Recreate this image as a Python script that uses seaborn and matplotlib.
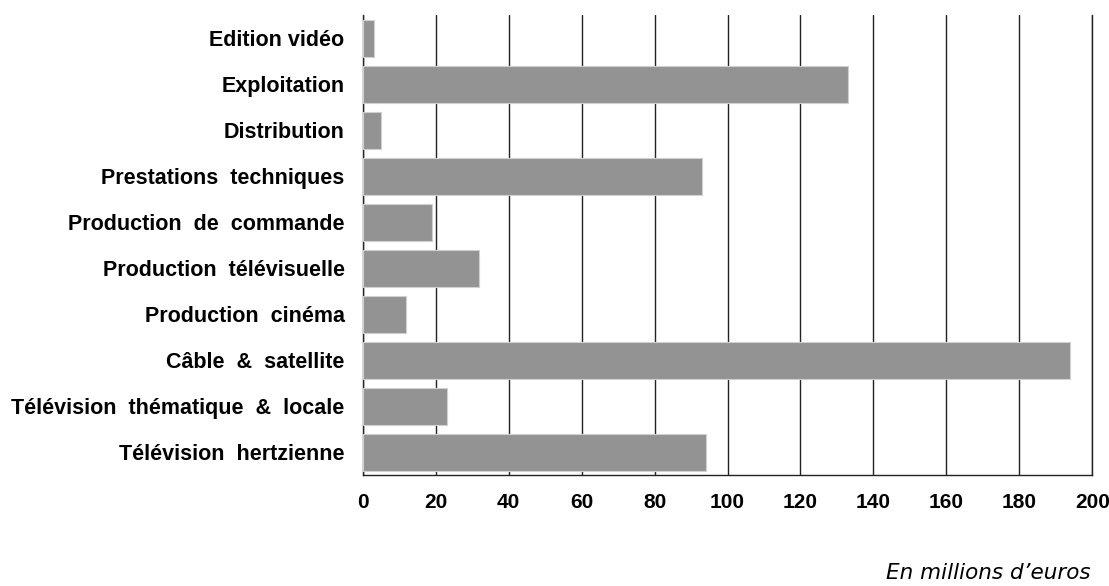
import numpy as np
import pandas as pd
import matplotlib
matplotlib.use("Agg")
import matplotlib.pyplot as plt
import seaborn as sns

# --- data ---
categories = [
    "Edition vidéo",
    "Exploitation",
    "Distribution",
    "Prestations  techniques",
    "Production  de  commande",
    "Production  télévisuelle",
    "Production  cinéma",
    "Câble  &  satellite",
    "Télévision  thématique  &  locale",
    "Télévision  hertzienne",
]
values = [3, 133, 5, 93, 19, 32, 12, 194, 23, 94]
x_ticks = [0, 20, 40, 60, 80, 100, 120, 140, 160, 180, 200]
unit_note = "En millions d\u2019euros"

df = pd.DataFrame({"secteur": categories, "montant": values})

sns.set_style("white")
plt.rcParams["font.family"] = ["Liberation Sans", "DejaVu Sans"]
plt.rcParams["text.color"] = "black"
plt.rcParams["xtick.color"] = "black"
plt.rcParams["ytick.color"] = "black"

fig = plt.figure(figsize=(11.09, 5.86), dpi=100)
ax = fig.add_axes([0.327, 0.189, 0.658, 0.785])

sns.barplot(data=df, x="montant", y="secteur", orient="h", color="#939393",
            saturation=1, width=0.8, edgecolor="#d0d0d0", linewidth=0.8,
            ax=ax, zorder=3)

ax.set_xlim(0, 200)
ax.set_ylim(len(categories) - 0.5, -0.5)
ax.set_xticks(x_ticks)
ax.set_xticklabels([str(t) for t in x_ticks], fontsize=15, fontweight="bold")
ax.set_yticklabels(categories, fontsize=15.5, fontweight="bold")
ax.set_xlabel("")
ax.set_ylabel("")

# vertical grid lines
ax.xaxis.grid(True, color="#222222", linewidth=1.0, zorder=1)
ax.yaxis.grid(False)
ax.set_axisbelow(True)

ax.spines["top"].set_visible(False)
for side in ["left", "bottom", "right"]:
    ax.spines[side].set_color("#222222")
    ax.spines[side].set_linewidth(1.0)

# tick marks between categories on the left axis
ax.set_yticks(np.arange(-0.5, len(categories), 1.0), minor=True)
ax.tick_params(axis="y", which="major", length=0, pad=13)
ax.tick_params(axis="y", which="minor", length=5, direction="in", color="black")
ax.tick_params(axis="x", which="major", length=4, direction="in", pad=13, color="black")

fig.text(0.983, 0.022, unit_note, ha="right", va="center", fontsize=15.5,
         style="italic", family="DejaVu Sans")

fig.savefig("out.png", dpi=100)
